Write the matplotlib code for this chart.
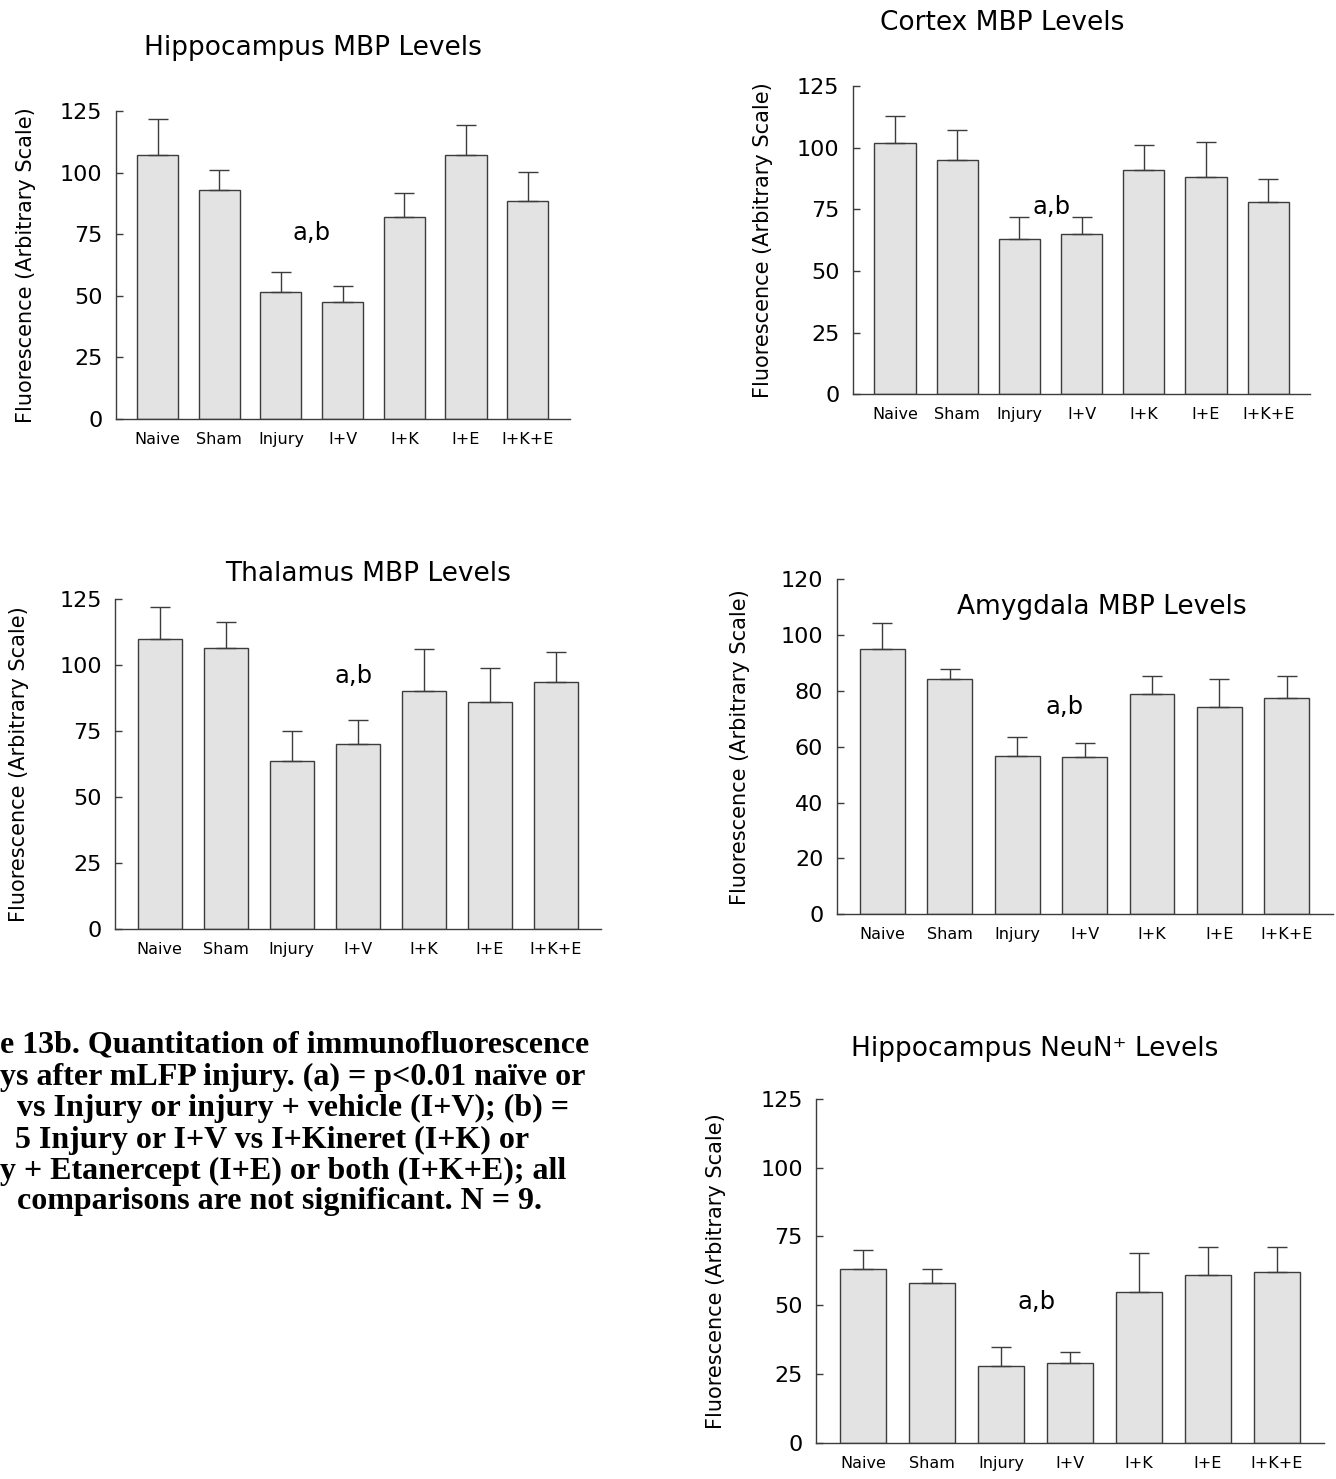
import matplotlib
matplotlib.use("Agg")
import matplotlib.pyplot as plt
import numpy as np

# ---------------- data ----------------
categories = ["Naive", "Sham", "Injury", "I+V", "I+K", "I+E", "I+K+E"]

hippo_mbp = [107.3, 93.1, 51.5, 47.4, 81.9, 107.1, 88.6]
hippo_mbp_err = [14.6, 7.8, 8.3, 6.6, 9.8, 12.4, 11.8]

cortex_mbp = [102.0, 95.0, 63.1, 65.1, 91.0, 88.0, 78.0]
cortex_mbp_err = [11.0, 12.0, 8.9, 6.9, 10.0, 14.1, 9.1]

thalamus_mbp = [109.8, 106.6, 63.8, 69.9, 90.1, 86.1, 93.5]
thalamus_mbp_err = [12.3, 9.5, 11.2, 9.3, 15.8, 12.8, 11.6]

amygdala_mbp = [94.9, 84.3, 56.7, 56.5, 78.9, 74.4, 77.5]
amygdala_mbp_err = [9.3, 3.6, 6.7, 4.9, 6.6, 9.9, 7.9]

hippo_neun = [63.0, 58.1, 28.0, 29.0, 54.9, 61.1, 62.0]
hippo_neun_err = [7.1, 4.9, 6.9, 4.0, 14.2, 9.9, 9.0]

ticks_125 = [0, 25, 50, 75, 100, 125]
ticks_120 = [0, 20, 40, 60, 80, 100, 120]

titles = ["Hippocampus MBP Levels", "Cortex MBP Levels", "Thalamus MBP Levels",
          "Amygdala MBP Levels", "Hippocampus NeuN\u207a Levels"]
ylabel = "Fluorescence (Arbitrary Scale)"
sig_label = "a,b"

caption_lines = [
    "e 13b. Quantitation of immunofluorescence",
    "ys after mLFP injury. (a) = p<0.01 na\u00efve or",
    "vs Injury or injury + vehicle (I+V); (b) =",
    "5 Injury or I+V vs I+Kineret (I+K) or",
    "y + Etanercept (I+E) or both (I+K+E); all",
    "comparisons are not significant. N = 9.",
]

# ---------------- layout (pixels) ----------------
W, H = 1336, 1479
fig = plt.figure(figsize=(W / 100, H / 100), dpi=100)
plt.rcParams['font.family'] = ['DejaVu Sans']

XMIN, XMAX = -0.68, 6.68

panels = [
    dict(v=hippo_mbp, e=hippo_mbp_err, ticks=ticks_125, c0=157.5, sp=61.7,
         y0=419, yt=111, title=titles[0], tpos=(313, 48), ylx=26,
         sig=(2.5, 75.3)),
    dict(v=cortex_mbp, e=cortex_mbp_err, ticks=ticks_125, c0=895, sp=62.2,
         y0=394.3, yt=86, title=titles[1], tpos=(1002, 23), ylx=763,
         sig=(2.52, 76.0)),
    dict(v=thalamus_mbp, e=thalamus_mbp_err, ticks=ticks_125, c0=159.8, sp=66,
         y0=929, yt=599, title=titles[2], tpos=(368, 574), ylx=19,
         sig=(2.93, 95.7)),
    dict(v=amygdala_mbp, e=amygdala_mbp_err, ticks=ticks_120, c0=882.4, sp=67.4,
         y0=914.3, yt=579.3, title=titles[3], tpos=(1102, 607), ylx=740,
         sig=(2.71, 74.4)),
    dict(v=hippo_neun, e=hippo_neun_err, ticks=ticks_125, c0=862.9, sp=69,
         y0=1442.7, yt=1099, title=titles[4], tpos=(1035, 1049), ylx=716,
         sig=(2.52, 51.3)),
]

bar_face = "#e3e3e3"
edge = "#3c3c3c"

x = np.arange(len(categories))
for p in panels:
    left = p["c0"] + XMIN * p["sp"]
    width = (XMAX - XMIN) * p["sp"]
    ax = fig.add_axes([left / W, (H - p["y0"]) / H, width / W, (p["y0"] - p["yt"]) / H])
    ax.bar(x, p["v"], width=0.665, color=bar_face, edgecolor=edge, linewidth=1.0, zorder=2)
    lower = np.zeros(len(x))
    ax.errorbar(x, p["v"], yerr=[lower, p["e"]], fmt="none", ecolor=edge,
                elinewidth=1.0, capsize=7, capthick=1.0, zorder=3)
    ax.set_xlim(XMIN, XMAX)
    ax.set_ylim(p["ticks"][0], p["ticks"][-1])
    ax.set_yticks(p["ticks"])
    ax.set_xticks(x)
    ax.set_xticklabels(categories, fontsize=11.5)
    ax.tick_params(axis="x", length=0, pad=9.5)
    ax.tick_params(axis="y", direction="in", length=5, width=1.0, color=edge,
                   labelsize=16, pad=9.5)
    for s in ("top", "right"):
        ax.spines[s].set_visible(False)
    for s in ("left", "bottom"):
        ax.spines[s].set_color(edge)
        ax.spines[s].set_linewidth(1.0)
    ax.text(p["sig"][0], p["sig"][1], sig_label, ha="center", va="center", fontsize=17.5)
    fig.text(p["tpos"][0] / W, 1 - p["tpos"][1] / H, p["title"], ha="center",
             va="center", fontsize=19)
    ymid = (p["y0"] + p["yt"]) / 2
    fig.text(p["ylx"] / W, 1 - ymid / H, ylabel, rotation=90, ha="center",
             va="center", fontsize=15)

# caption
cap_x = [0, 0, 17, 15, 0, 17]
cap_y = [1045, 1077, 1108, 1140, 1171, 1202]
for txt, cx, cy in zip(caption_lines, cap_x, cap_y):
    fig.text(cx / W, 1 - cy / H, txt, ha="left", va="center",
             fontsize=23, fontweight="bold", family=["Liberation Serif", "DejaVu Serif"])

fig.savefig("out.png", dpi=100)
